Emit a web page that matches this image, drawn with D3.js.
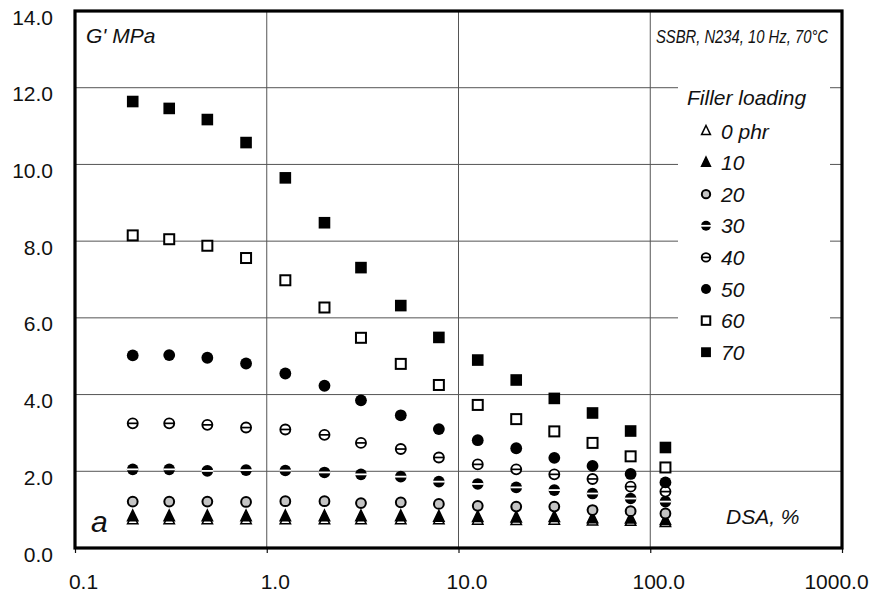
<!DOCTYPE html>
<html>
<head>
<meta charset="utf-8">
<script src="https://cdn.jsdelivr.net/npm/d3@7"></script>
<style>
  body { margin: 0; background: #fff; }
  svg { display: block; }
  text { font-family: "Liberation Sans", Arial, sans-serif; fill: #111; }
</style>
</head>
<body>
<svg id="chart" width="876" height="598"></svg>
<script>
// ---- data ----
const strainPct = [0.2, 0.31, 0.49, 0.78, 1.25, 2.0, 3.1, 5.0, 7.9, 12.6, 20, 31.6, 50, 79, 120];
const fillerLabels = ["0 phr", "10", "20", "30", "40", "50", "60", "70"];
const g0phr  = [0.74, 0.74, 0.74, 0.74, 0.74, 0.74, 0.74, 0.74, 0.74, 0.73, 0.72, 0.73, 0.71, 0.70, 0.67];
const g10phr = [0.82, 0.82, 0.82, 0.82, 0.82, 0.82, 0.82, 0.82, 0.81, 0.80, 0.79, 0.80, 0.77, 0.76, 0.72];
const g20phr = [1.21, 1.21, 1.21, 1.20, 1.22, 1.22, 1.17, 1.19, 1.15, 1.10, 1.08, 1.08, 0.99, 0.96, 0.90];
const g30phr = [2.05, 2.05, 2.01, 2.03, 2.02, 1.97, 1.92, 1.86, 1.73, 1.67, 1.58, 1.51, 1.42, 1.29, 1.21];
const g40phr = [3.25, 3.25, 3.21, 3.14, 3.09, 2.95, 2.74, 2.58, 2.36, 2.18, 2.05, 1.92, 1.80, 1.60, 1.47];
const g50phr = [5.02, 5.03, 4.96, 4.81, 4.55, 4.23, 3.85, 3.46, 3.10, 2.81, 2.60, 2.35, 2.14, 1.93, 1.71];
const g60phr = [8.15, 8.05, 7.88, 7.56, 6.98, 6.27, 5.48, 4.80, 4.25, 3.73, 3.36, 3.04, 2.74, 2.39, 2.10];
const g70phr = [11.64, 11.46, 11.17, 10.57, 9.65, 8.48, 7.31, 6.32, 5.49, 4.90, 4.38, 3.90, 3.52, 3.05, 2.62];
const xTickValues = [0.1, 1, 10, 100, 1000];
const yTickValues = [0, 2, 4, 6, 8, 10, 12, 14];
const markerTypes = ["triOpen", "triFilled", "circGray", "circStriped", "circLine", "circFilled", "sqOpen", "sqFilled"];

const seriesList = [g0phr, g10phr, g20phr, g30phr, g40phr, g50phr, g60phr, g70phr].map((vals, i) => ({
  label: fillerLabels[i], type: markerTypes[i], values: vals
}));

// ---- layout ----
const svg = d3.select("#chart");
const x = d3.scaleLog().domain([0.1, 1000]).range([75, 842]);
const y = d3.scaleLinear().domain([0, 14]).range([548, 11]);

// gridlines
const grid = svg.append("g").attr("stroke", "#555").attr("stroke-width", 1);
grid.selectAll("line.h").data(yTickValues.filter(v => v > 0 && v < 14)).join("line")
  .attr("x1", x(0.1)).attr("x2", x(1000)).attr("y1", d => y(d)).attr("y2", d => y(d));
grid.selectAll("line.v").data(xTickValues.filter(v => v > 0.1 && v < 1000)).join("line")
  .attr("x1", d => x(d)).attr("x2", d => x(d)).attr("y1", y(14)).attr("y2", y(0));

// legend background (hides gridlines)
svg.append("rect").attr("x", 678).attr("y", 78).attr("width", 152).attr("height", 288).attr("fill", "#fff");

// axes
const xAxis = d3.axisBottom(x).tickValues(xTickValues).tickFormat(d3.format(".1f"))
  .tickSize(5).tickPadding(21);
const gx = svg.append("g").attr("transform", `translate(0,${y(0)})`).call(xAxis);
gx.select(".domain").remove();
gx.selectAll(".tick line").attr("stroke", "#111").attr("stroke-width", 1.2);
gx.selectAll(".tick text").attr("font-size", 21)
  .attr("dx", (d, i) => i === xTickValues.length - 1 ? -6 : 8)
  .style("font-family", "'Liberation Sans', Arial, sans-serif").attr("fill", "#111");

const yAxis = d3.axisLeft(y).tickValues(yTickValues).tickFormat(d3.format(".1f"))
  .tickSize(0).tickPadding(22);
const gy = svg.append("g").attr("transform", `translate(${x(0.1)},0)`).call(yAxis);
gy.select(".domain").remove();
gy.selectAll(".tick text").attr("font-size", 21).attr("dy", "0.62em")
  .style("font-family", "'Liberation Sans', Arial, sans-serif").attr("fill", "#111");

// frame
svg.append("rect").attr("x", x(0.1)).attr("y", y(14))
  .attr("width", x(1000) - x(0.1)).attr("height", y(0) - y(14))
  .attr("fill", "none").attr("stroke", "#000").attr("stroke-width", 3.2);

// marker drawing
function drawMarker(sel, type, s) {
  const k = s || 1;
  if (type === "triOpen" || type === "triFilled") {
    sel.append("path")
      .attr("d", `M0,${-6.5*k}L${5.2*k},${4.2*k}L${-5.2*k},${4.2*k}Z`)
      .attr("fill", type === "triFilled" ? "#000" : "#fff")
      .attr("stroke", "#000").attr("stroke-width", 1.5).attr("stroke-linejoin", "miter");
  } else if (type === "circGray") {
    sel.append("circle").attr("r", 4.9*k).attr("fill", "#c4c4c4").attr("stroke", "#000").attr("stroke-width", 2);
  } else if (type === "circStriped") {
    sel.append("circle").attr("r", 5.8*k).attr("fill", "#000");
    sel.append("line").attr("x1", -6*k).attr("x2", 6*k).attr("y1", 0).attr("y2", 0)
      .attr("stroke", "#fff").attr("stroke-width", 1.8);
  } else if (type === "circLine") {
    sel.append("circle").attr("r", 5*k).attr("fill", "#fff").attr("stroke", "#000").attr("stroke-width", 1.9);
    sel.append("line").attr("x1", -5*k).attr("x2", 5*k).attr("y1", 0).attr("y2", 0)
      .attr("stroke", "#000").attr("stroke-width", 1.7);
  } else if (type === "circFilled") {
    sel.append("circle").attr("r", 5.9*k).attr("fill", "#000");
  } else if (type === "sqOpen") {
    sel.append("rect").attr("x", -5*k).attr("y", -5*k).attr("width", 10*k).attr("height", 10*k)
      .attr("fill", "#fff").attr("stroke", "#000").attr("stroke-width", 2);
  } else if (type === "sqFilled") {
    sel.append("rect").attr("x", -5.8*k).attr("y", -5.8*k).attr("width", 11.6*k).attr("height", 11.6*k)
      .attr("fill", "#000");
  }
}

// points
seriesList.forEach(s => {
  const g = svg.append("g").attr("class", "series");
  s.values.forEach((v, i) => {
    const m = g.append("g").attr("transform", `translate(${x(strainPct[i])},${y(v)})`);
    drawMarker(m, s.type, 1);
  });
});

// annotations
const italic = sel => sel.attr("font-style", "italic").attr("font-size", 21);
svg.append("text").attr("x", 86).attr("y", 43).text("G' MPa").call(italic);
svg.append("text").attr("transform", "translate(828,43) scale(0.78,1)")
  .attr("text-anchor", "end").text("SSBR, N234, 10 Hz, 70°C")
  .attr("font-style", "italic").attr("font-size", 19);
svg.append("text").attr("x", 687).attr("y", 105).text("Filler loading").call(italic);
svg.append("text").attr("x", 726).attr("y", 524).text("DSA, %").call(italic);
svg.append("text").attr("x", 91).attr("y", 532).text("a").attr("font-style", "italic").attr("font-size", 30);

// legend
const lg = svg.append("g");
seriesList.forEach((s, i) => {
  const cy = 131 + i * 31.6;
  const m = lg.append("g").attr("transform", `translate(706,${cy})`);
  drawMarker(m, s.type, 0.85);
  lg.append("text").attr("x", 721).attr("y", cy + 7.5).text(s.label).call(italic);
});
</script>
</body>
</html>
